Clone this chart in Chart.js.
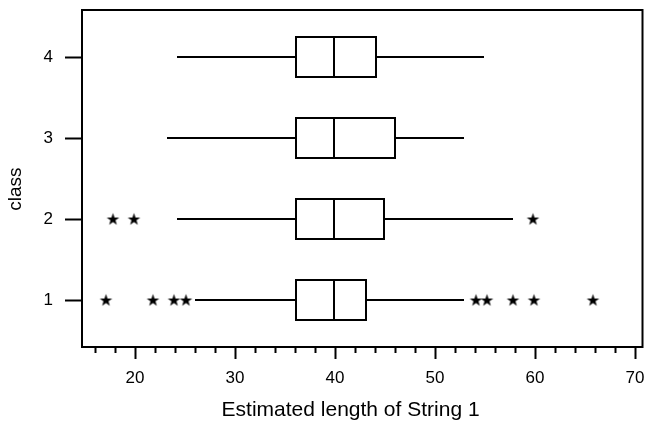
<!DOCTYPE html>
<html>
<head>
<meta charset="utf-8">
<script src="https://cdn.jsdelivr.net/npm/chart.js@4/dist/chart.umd.min.js"></script>
<style>
html, body { margin: 0; padding: 0; background: #fff; }
</style>
</head>
<body>
<canvas id="myChart" width="645" height="422"></canvas>
<script>
var classes = [1, 2, 3, 4];
var whisker_low = [26, 24.2, 23.2, 24.2];
var q1 = [36, 36, 36, 36];
var median = [40, 40, 40, 40];
var q3 = [43.2, 45, 46.1, 44.2];
var whisker_high = [52.9, 57.8, 52.9, 54.9];
var outliers_1 = [17.1, 21.8, 23.9, 25.1, 54.1, 55.2, 57.8, 59.9, 65.8];
var outliers_2 = [17.8, 19.9, 59.8];
var x_labels = [20, 30, 40, 50, 60, 70];

Chart.defaults.font.family = "'Liberation Sans', Arial, sans-serif";
Chart.defaults.color = '#000';

// filled star used as the outlier marker
function make_star() {
    let c = document.createElement('canvas');
    c.width = 15;
    c.height = 15;
    let g = c.getContext('2d');
    g.beginPath();
    for (let i = 0; i < 10; i++) {
        let r = i % 2 == 0 ? 6.6 : 2.6;
        let a = -Math.PI / 2 + i * Math.PI / 5;
        let px = 7.5 + r * Math.cos(a);
        let py = 8 + r * Math.sin(a);
        if (i == 0) g.moveTo(px, py); else g.lineTo(px, py);
    }
    g.closePath();
    g.fillStyle = '#000';
    g.fill();
    return c;
}
var star = make_star();

function pairs(a, b) {
    return classes.map((c, i) => ({ x: [a[i], b[i]], y: c }));
}

let outlier_points = outliers_1.map(v => ({ x: v, y: 1 }))
    .concat(outliers_2.map(v => ({ x: v, y: 2 })));

var frame = {
    id: 'frame',
    afterDatasetsDraw(chart) {
        let ctx = chart.ctx;
        let a = chart.chartArea;
        ctx.save();
        ctx.lineWidth = 2;
        ctx.strokeStyle = '#000';
        ctx.strokeRect(a.left, a.top, a.right - a.left, a.bottom - a.top);
        ctx.restore();
    }
};

let whisker_style = {
    type: 'bar',
    backgroundColor: '#000',
    borderWidth: 0,
    barThickness: 2,
    grouped: false,
    inflateAmount: 0,
    order: 3
};

var ctx = document.getElementById('myChart').getContext('2d');

var myChart = new Chart(ctx, {
    type: 'bar',
    data: {
        datasets: [
            Object.assign({ data: pairs(whisker_low, q1) }, whisker_style),
            Object.assign({ data: pairs(q3, whisker_high) }, whisker_style),
            {
                type: 'bar',
                data: pairs(q1, q3),
                backgroundColor: '#fff',
                borderColor: '#000',
                borderWidth: 2,
                borderSkipped: false,
                inflateAmount: 0,
                grouped: false,
                barPercentage: 42 / 81,
                categoryPercentage: 1,
                order: 2
            },
            {
                type: 'bar',
                data: pairs(q1, median),
                backgroundColor: 'rgba(0,0,0,0)',
                borderColor: '#000',
                borderWidth: { left: 0, right: 2, top: 0, bottom: 0 },
                borderSkipped: false,
                inflateAmount: 0,
                grouped: false,
                barPercentage: 42 / 81,
                categoryPercentage: 1,
                order: 1
            },
            {
                type: 'scatter',
                data: outlier_points,
                pointStyle: star,
                pointRadius: 7,
                order: 0
            }
        ]
    },
    options: {
        indexAxis: 'y',
        responsive: false,
        animation: false,
        layout: { autoPadding: false, padding: { left: 0, right: 2.5, top: 10, bottom: 0 } },
        plugins: {
            legend: { display: false },
            tooltip: { enabled: false }
        },
        scales: {
            x: {
                type: 'linear',
                min: 14.7,
                max: 70.75,
                beginAtZero: false,
                border: { display: false },
                grid: {
                    drawOnChartArea: false,
                    tickLength: 12,
                    tickWidth: 2,
                    tickColor: '#000',
                    tickBorderDash: c => x_labels.includes(c.tick.value) ? [] : [6, 20]
                },
                ticks: {
                    stepSize: 2,
                    autoSkip: false,
                    includeBounds: false,
                    maxRotation: 0,
                    padding: 9,
                    font: { size: 17 },
                    callback: v => x_labels.includes(v) ? String(v) : ''
                },
                title: {
                    display: true,
                    text: 'Estimated length of String 1\u00a0\u00a0\u00a0\u00a0',
                    font: { size: 21 },
                    padding: { top: 0, bottom: -1 }
                },
                afterFit: s => { s.height = 75; s.paddingLeft = 0; s.paddingRight = 0; }
            },
            y: {
                type: 'linear',
                min: 0.42,
                max: 0.42 + 337 / 81,
                offset: false,
                beginAtZero: false,
                border: { display: false },
                grid: {
                    offset: false,
                    drawOnChartArea: false,
                    tickLength: 17,
                    tickWidth: 2,
                    tickColor: '#000'
                },
                ticks: {
                    stepSize: 1,
                    includeBounds: false,
                    padding: 12,
                    font: { size: 17 },
                    callback: v => classes.includes(v) ? String(v) : ''
                },
                title: {
                    display: true,
                    text: 'class\u00a0\u00a0\u00a0\u00a0',
                    font: { size: 19 },
                    padding: { top: 4, bottom: 0 }
                },
                afterFit: s => { s.width = 82; s.paddingTop = 0; s.paddingBottom = 0; }
            }
        }
    },
    plugins: [frame]
});
</script>
</body>
</html>
